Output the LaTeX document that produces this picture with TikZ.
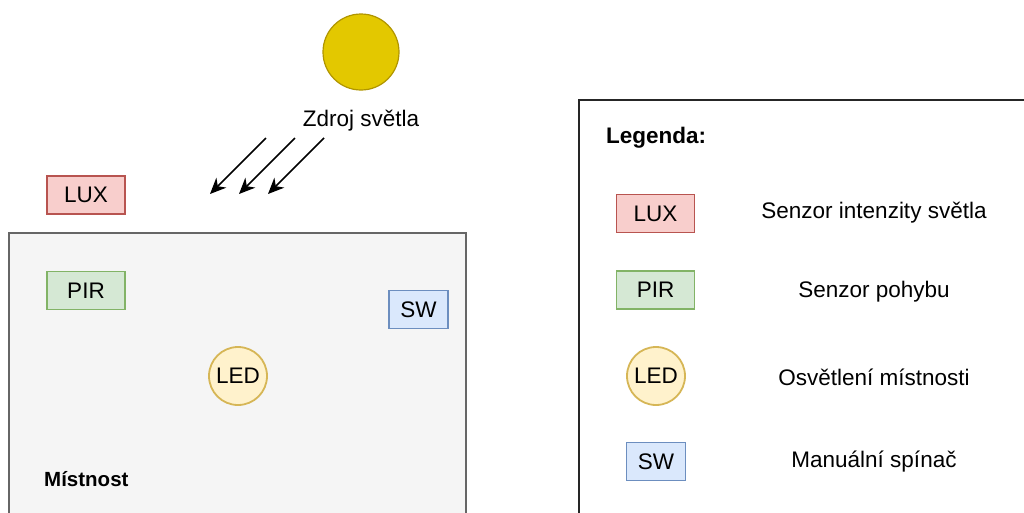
\documentclass[tikz,border=0pt]{standalone}
\usepackage{fontspec}
\setmainfont{Liberation Sans}
\usetikzlibrary{arrows.meta}
\definecolor{sunfill}{HTML}{E3C800}
\definecolor{sunline}{HTML}{B09500}
\definecolor{luxfill}{HTML}{F8CECC}
\definecolor{luxline}{HTML}{B85450}
\definecolor{pirfill}{HTML}{D5E8D4}
\definecolor{pirline}{HTML}{82B366}
\definecolor{swfill}{HTML}{DAE8FC}
\definecolor{swline}{HTML}{6C8EBF}
\definecolor{ledfill}{HTML}{FFF2CC}
\definecolor{ledline}{HTML}{D6B656}
\definecolor{roomfill}{HTML}{F5F5F5}
\definecolor{roomline}{HTML}{666666}
\tikzset{
  txt/.style={font=\fontsize{22.5}{27}\selectfont, inner sep=0pt},
  boldtxt/.style={font=\fontsize{22.5}{27}\selectfont\bfseries, inner sep=0pt},
  luxbox/.style={draw=luxline, fill=luxfill, line width=1.8pt, minimum width=78pt, minimum height=38pt, inner sep=0pt, txt},
  pirbox/.style={draw=pirline, fill=pirfill, line width=1.8pt, minimum width=78pt, minimum height=38pt, inner sep=0pt, txt},
  swbox/.style={draw=swline, fill=swfill, line width=1.8pt, minimum width=59pt, minimum height=38pt, inner sep=0pt, txt},
  ledcirc/.style={circle, draw=ledline, fill=ledfill, line width=1.8pt, minimum size=58pt, inner sep=0pt, txt},
  ray/.style={-{Stealth[length=16pt,width=14pt,inset=5pt]}, line width=1.6pt, black},
}
\begin{document}
\begin{tikzpicture}[x=1pt,y=-1pt]
\useasboundingbox (0,0) rectangle (1024,512);
% room
\path[draw=roomline, fill=roomfill, line width=1.8pt] (9,233) rectangle (466,540);
\node[font=\fontsize{20.5}{24}\selectfont\bfseries, inner sep=0pt, anchor=west] (room) at (44,479) {Místnost};
% sun
\node[circle, draw=sunline, fill=sunfill, line width=1.2pt, minimum size=76pt, inner sep=0pt] (sun) at (361,52) {};
\node[txt] (src) at (361,121) {Zdroj světla};
% rays
\coordinate (r1s) at (266,138); \coordinate (r1e) at (210,194);
\coordinate (r2s) at (295,138); \coordinate (r2e) at (239,194);
\coordinate (r3s) at (324,138); \coordinate (r3e) at (268,194);
\draw[ray] (r1s) -- (r1e);
\draw[ray] (r2s) -- (r2e);
\draw[ray] (r3s) -- (r3e);
% room devices
\node[luxbox] (lux) at (86,195) {LUX};
\node[pirbox] (pir) at (86,290.5) {PIR};
\node[swbox] (sw) at (418.5,309.5) {SW};
\node[ledcirc] (led) at (238,376) {LED};
% legend
\path[draw=black!85, fill=white, line width=1.8pt] (579,100) rectangle (1040,540);
\node[boldtxt, anchor=west] (leg) at (606,138) {Legenda:};
\node[luxbox] (llux) at (655.5,213.5) {LUX};
\node[pirbox] (lpir) at (655.5,290) {PIR};
\node[ledcirc] (lled) at (656,376) {LED};
\node[swbox] (lsw) at (656,461.5) {SW};
\node[txt] (tlux) at (874,213) {Senzor intenzity světla};
\node[txt] (tpir) at (874,292) {Senzor pohybu};
\node[txt] (tled) at (874,377) {Osvětlení místnosti};
\node[txt] (tsw) at (874,462) {Manuální spínač};
\end{tikzpicture}
\end{document}
